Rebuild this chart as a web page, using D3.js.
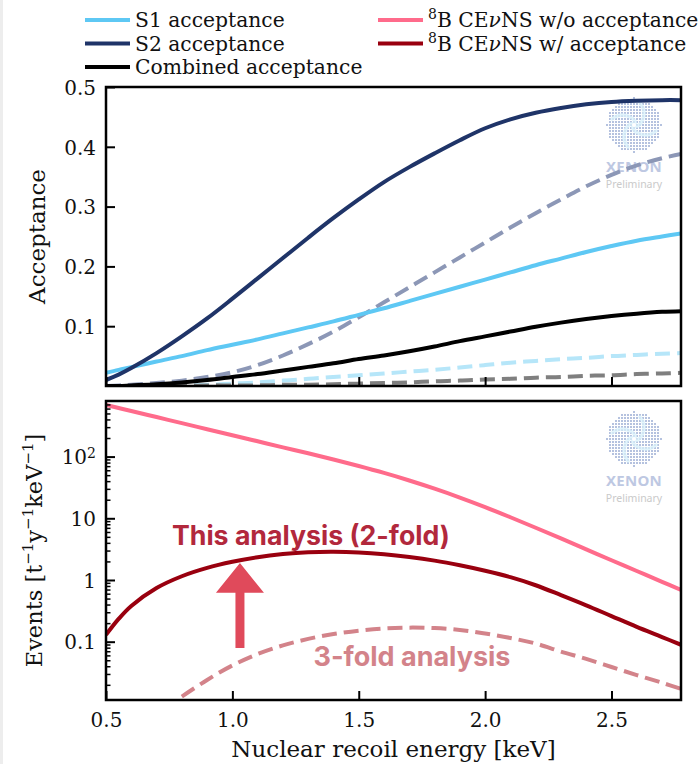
<!DOCTYPE html>
<html>
<head>
<meta charset="utf-8">
<script src="https://cdn.jsdelivr.net/npm/d3@7"></script>
<style>
  html, body { margin: 0; padding: 0; background: #fff; }
  svg text { font-family: "DejaVu Serif", serif; fill: #111; }
</style>
</head>
<body>
<svg id="chart" width="700" height="764"></svg>
<script>
// Nuclear recoil energy grid [keV]
const energy = [0.5, 0.55, 0.6, 0.7, 0.8, 0.9, 1.0, 1.1, 1.2, 1.3, 1.4, 1.5, 1.6,
                1.7, 1.8, 1.9, 2.0, 2.1, 2.2, 2.3, 2.4, 2.5, 2.6, 2.7, 2.775];

// Acceptances, 2-fold (solid)
const s1Acc = [0.022, 0.027, 0.0315, 0.041, 0.050, 0.060, 0.069, 0.078, 0.088, 0.098, 0.108, 0.119, 0.130,
               0.142, 0.154, 0.166, 0.178, 0.190, 0.202, 0.213, 0.224, 0.234, 0.243, 0.250, 0.255];
const s2Acc = [0.010, 0.019, 0.030, 0.055, 0.083, 0.113, 0.146, 0.180, 0.214, 0.248, 0.281, 0.312, 0.341,
               0.366, 0.389, 0.411, 0.431, 0.446, 0.457, 0.465, 0.471, 0.475, 0.477, 0.478, 0.478];
const combAcc = [0.000, 0.000, 0.001, 0.003, 0.006, 0.010, 0.015, 0.020, 0.026, 0.032, 0.038, 0.045, 0.051,
                 0.058, 0.066, 0.075, 0.083, 0.091, 0.099, 0.106, 0.112, 0.117, 0.121, 0.124, 0.125];

// Acceptances, 3-fold (dashed)
const s1Acc3 = [0.000, 0.000, 0.000, 0.001, 0.001, 0.002, 0.004, 0.006, 0.009, 0.012, 0.015, 0.018, 0.021,
                0.024, 0.027, 0.031, 0.035, 0.039, 0.042, 0.045, 0.047, 0.050, 0.052, 0.054, 0.055];
const s2Acc3 = [0.000, 0.001, 0.002, 0.005, 0.009, 0.015, 0.023, 0.035, 0.051, 0.070, 0.091, 0.115, 0.140,
                0.165, 0.190, 0.215, 0.240, 0.265, 0.289, 0.312, 0.334, 0.353, 0.369, 0.381, 0.388];
const combAcc3 = [0.000, 0.000, 0.000, 0.000, 0.000, 0.001, 0.001, 0.001, 0.002, 0.002, 0.003, 0.004, 0.005,
                  0.006, 0.008, 0.009, 0.011, 0.012, 0.014, 0.015, 0.017, 0.018, 0.020, 0.021, 0.022];

// 8B CEvNS spectra [t^-1 y^-1 keV^-1]
const rateNoAcc = [686, 612, 547, 437, 348, 278, 222, 177, 141, 113, 89.5, 70.3, 54.3,
                   41.0, 30.2, 21.7, 15.2, 10.4, 7.03, 4.71, 3.14, 2.09, 1.40, 0.933, 0.690];
const rate2fold = [0.129, 0.234, 0.380, 0.741, 1.15, 1.57, 1.97, 2.34, 2.63, 2.82, 2.87, 2.80, 2.62,
                   2.36, 2.06, 1.73, 1.41, 1.11, 0.822, 0.569, 0.389, 0.260, 0.174, 0.119, 0.0891];
const rate3fold = [null, null, null, null, 0.0129, 0.0240, 0.0412, 0.0631, 0.0871, 0.111, 0.133, 0.151, 0.164,
                   0.169, 0.166, 0.155, 0.136, 0.115, 0.0933, 0.0692, 0.0525, 0.0389, 0.0288, 0.0216, 0.0172];

// Axis ticks
const xTicks = [0.5, 1.0, 1.5, 2.0, 2.5];
const accTicks = [0.1, 0.2, 0.3, 0.4, 0.5];
const rateTicks = [0.1, 1, 10, 100];
const rateTickLabels = ["0.1", "1", "10", "10|2"];

const svg = d3.select("#chart");

// faint page edge on the left
svg.append("rect").attr("x", 0).attr("y", 0).attr("width", 3).attr("height", 764).attr("fill", "#ededed");

const plotL = 106, plotR = 681;
const top1 = 87, bot1 = 386;
const top2 = 401, bot2 = 700;

const x = d3.scaleLinear().domain([0.5, 2.775]).range([plotL, plotR]);
const yAcc = d3.scaleLinear().domain([0, 0.5]).range([bot1, top1]);
const yRate = d3.scaleLog().domain([0.01135, 796]).range([bot2, top2]);

svg.append("defs").call(d => {
  d.append("clipPath").attr("id", "clipTop").append("rect")
    .attr("x", plotL).attr("y", top1).attr("width", plotR - plotL).attr("height", bot1 - top1);
  d.append("clipPath").attr("id", "clipBot").append("rect")
    .attr("x", plotL).attr("y", top2).attr("width", plotR - plotL).attr("height", bot2 - top2);
});

// XENON collaboration mark
function drawLogo(g, cx, cy) {
  const lg = g.append("g").attr("opacity", 0.8);
  const r = 27;
  const dots = [];
  for (let i = -9; i <= 9; i++) {
    for (let j = -9; j <= 9; j++) {
      const px = i * 3, py = j * 3;
      if (px * px + py * py <= r * r) dots.push([px, py]);
    }
  }
  lg.selectAll("rect.dot").data(dots).join("rect").attr("class", "dot")
    .attr("x", d => cx + d[0] - 1).attr("y", d => cy + d[1] - 1)
    .attr("width", 2).attr("height", 2).attr("fill", "#a3b3d8");
  // faint light-cyan swirl over the disk
  const sw = lg.append("g").attr("fill", "none").attr("stroke", "#d2f0fb")
    .attr("stroke-width", 3.5).attr("stroke-linecap", "round").attr("opacity", 0.75);
  sw.append("path").attr("d", `M${cx - 22},${cy - 6} C${cx - 10},${cy - 16} ${cx + 6},${cy - 4} ${cx},${cy}`);
  sw.append("path").attr("d", `M${cx + 22},${cy + 6} C${cx + 10},${cy + 16} ${cx - 6},${cy + 4} ${cx},${cy}`);
  sw.append("path").attr("d", `M${cx - 6},${cy + 22} C${cx - 16},${cy + 10} ${cx - 4},${cy - 6} ${cx},${cy}`);
  sw.append("path").attr("d", `M${cx + 6},${cy - 22} C${cx + 16},${cy - 10} ${cx + 4},${cy + 6} ${cx},${cy}`);
  lg.append("circle").attr("cx", cx).attr("cy", cy).attr("r", 2).attr("fill", "#ffffff");
  lg.append("text").attr("x", cx).attr("y", cy + 47).attr("text-anchor", "middle")
    .style("font-family", "'Noto Sans', sans-serif").style("font-weight", 700)
    .style("font-size", "15px").style("fill", "#aebbdc").style("letter-spacing", "0.3px").text("XENON");
  lg.append("text").attr("x", cx).attr("y", cy + 63).attr("text-anchor", "middle")
    .style("font-family", "'Noto Sans', sans-serif")
    .style("font-size", "10.5px").style("fill", "#bdbdbd").text("Preliminary");
}

const lineGen = (ys, yScale) => d3.line()
  .defined((d, i) => ys[i] !== null)
  .x((d, i) => x(energy[i]))
  .y((d, i) => yScale(ys[i]))
  .curve(d3.curveCatmullRom.alpha(0.5))(energy);

// ---------- top panel: acceptances ----------
const gTop = svg.append("g");
drawLogo(gTop, 634, 125);

const accSeries = [
  { ys: s1Acc3, color: "#b6e6f9", dash: "15,7" },
  { ys: combAcc3, color: "#7f7f7f", dash: "15,7" },
  { ys: s2Acc3, color: "#8c97b6", dash: "15,7" },
  { ys: s1Acc, color: "#5ec8f4", dash: null },
  { ys: s2Acc, color: "#1f3468", dash: null },
  { ys: combAcc, color: "#000000", dash: null }
];
const topLines = gTop.append("g").attr("clip-path", "url(#clipTop)");
accSeries.forEach(s => {
  topLines.append("path").attr("d", lineGen(s.ys, yAcc))
    .attr("fill", "none").attr("stroke", s.color).attr("stroke-width", 4)
    .attr("stroke-dasharray", s.dash);
});

// ---------- bottom panel: event rates ----------
const gBot = svg.append("g");
drawLogo(gBot, 634, 439);

const botLines = gBot.append("g").attr("clip-path", "url(#clipBot)");
[
  { ys: rateNoAcc, color: "#ff6b8b", dash: null },
  { ys: rate2fold, color: "#99000f", dash: null },
  { ys: rate3fold, color: "#d3838a", dash: "15,7" }
].forEach(s => {
  botLines.append("path").attr("d", lineGen(s.ys, yRate))
    .attr("fill", "none").attr("stroke", s.color).attr("stroke-width", 4)
    .attr("stroke-dasharray", s.dash);
});

// annotation: arrow from the 3-fold result up to this analysis
const ax = x(1.03);
const aBase = yRate(0.079), aTip = yRate(1.88), headY = yRate(0.62);
gBot.append("path")
  .attr("d", `M${ax - 4.5},${aBase} L${ax - 4.5},${headY} L${ax - 24},${headY} L${ax},${aTip}
              L${ax + 24},${headY} L${ax + 4.5},${headY} L${ax + 4.5},${aBase} Z`)
  .attr("fill", "#e04a5b");

function fitText(sel, width) {
  const w = sel.node().getComputedTextLength();
  const fs = parseFloat(sel.style("font-size"));
  sel.style("font-size", (fs * width / w).toFixed(2) + "px");
}
const t2 = gBot.append("text").attr("x", x(0.761)).attr("y", 545)
  .style("font-family", "Inter, 'Open Sans', sans-serif").style("font-weight", 700)
  .style("font-size", "25px").style("fill", "#b2283c").text("This analysis (2-fold)");
fitText(t2, 278);
const t3 = gBot.append("text").attr("x", x(1.321)).attr("y", 666)
  .style("font-family", "Inter, 'Open Sans', sans-serif").style("font-weight", 700)
  .style("font-size", "23px").style("fill", "#d3838a").text("3-fold analysis");
fitText(t3, 197);

// ---------- axes ----------
function styleAxis(g) {
  g.select(".domain").remove();
  g.selectAll(".tick line").attr("stroke", "#000").attr("stroke-width", 2);
  g.selectAll(".tick text").style("font-family", "'DejaVu Serif', serif").style("font-size", "20px").attr("fill", "#111");
}

// top panel
svg.append("g").attr("transform", `translate(${plotL},0)`)
  .call(d3.axisLeft(yAcc).tickValues(accTicks).tickSize(-9).tickPadding(10).tickFormat(d3.format(".1f")))
  .call(styleAxis)
  .selectAll(".tick text").attr("dy", "0.36em");
svg.append("g").attr("transform", `translate(0,${bot1})`)
  .call(d3.axisBottom(x).tickValues(xTicks).tickSize(-9).tickFormat(""))
  .call(styleAxis);

// bottom panel
svg.append("g").attr("transform", `translate(0,${bot2})`)
  .call(d3.axisBottom(x).tickValues(xTicks).tickSize(-9).tickPadding(10).tickFormat(d3.format(".1f")))
  .call(styleAxis)
  .selectAll(".tick text").attr("dy", "0.85em");

const minor = [];
[0.01, 0.1, 1, 10, 100].forEach(dec => {
  for (let k = 2; k <= 9; k++) {
    const v = dec * k;
    if (v > yRate.domain()[0] && v < yRate.domain()[1]) minor.push(v);
  }
});
svg.append("g").attr("transform", `translate(${plotL},0)`)
  .call(d3.axisLeft(yRate).tickValues(minor).tickSize(-4.5).tickFormat(""))
  .call(styleAxis)
  .selectAll(".tick line").attr("stroke-width", 1.5);

const yRateAxis = svg.append("g").attr("transform", `translate(${plotL},0)`)
  .call(d3.axisLeft(yRate).tickValues(rateTicks).tickSize(-9).tickPadding(10).tickFormat(""))
  .call(styleAxis);
yRateAxis.selectAll(".tick").each(function (d, i) {
  const parts = rateTickLabels[i].split("|");
  const t = d3.select(this).append("text").attr("x", -10).attr("dy", "0.36em")
    .attr("text-anchor", "end").style("font-size", "20px");
  t.append("tspan").text(parts[0]);
  if (parts[1]) t.append("tspan").attr("dy", "-0.45em").style("font-size", "14px").text(parts[1]);
});

// frames
[[top1, bot1], [top2, bot2]].forEach(([t, b]) => {
  svg.append("rect").attr("x", plotL).attr("y", t).attr("width", plotR - plotL).attr("height", b - t)
    .attr("fill", "none").attr("stroke", "#000").attr("stroke-width", 2.5);
});

// axis titles
svg.append("text").attr("transform", `translate(37,${(top1 + bot1) / 2}) rotate(-90)`)
  .attr("text-anchor", "middle").attr("dy", "0.35em").style("font-size", "23px").text("Acceptance");

const ev = svg.append("text").attr("transform", `translate(34,${(top2 + bot2) / 2}) rotate(-90)`)
  .attr("text-anchor", "middle").attr("dy", "0.35em").style("font-size", "22.5px");
ev.append("tspan").text("Events [t");
ev.append("tspan").attr("dy", -9).style("font-size", "15px").text("\u22121");
ev.append("tspan").attr("dy", 9).text("y");
ev.append("tspan").attr("dy", -9).style("font-size", "15px").text("\u22121");
ev.append("tspan").attr("dy", 9).text("keV");
ev.append("tspan").attr("dy", -9).style("font-size", "15px").text("\u22121");
ev.append("tspan").attr("dy", 9).text("]");

svg.append("text").attr("x", (plotL + plotR) / 2).attr("y", 757).attr("text-anchor", "middle")
  .style("font-size", "23px").text("Nuclear recoil energy [keV]");

// ---------- legend ----------
const legendItems = [
  { col: 0, row: 0, color: "#5ec8f4", label: ["S1 acceptance"] },
  { col: 0, row: 1, color: "#1f3468", label: ["S2 acceptance"] },
  { col: 0, row: 2, color: "#000000", label: ["Combined acceptance"] },
  { col: 1, row: 0, color: "#ff6b8b", label: ["8", "B CE", "\u03bd", "NS w/o acceptance"] },
  { col: 1, row: 1, color: "#99000f", label: ["8", "B CE", "\u03bd", "NS w/ acceptance"] }
];
const colX = [85, 378];
const rowY = [20, 43.5, 67];
const lg = svg.append("g");
legendItems.forEach(it => {
  const x0 = colX[it.col], y0 = rowY[it.row];
  lg.append("line").attr("x1", x0).attr("x2", x0 + 45).attr("y1", y0).attr("y2", y0)
    .attr("stroke", it.color).attr("stroke-width", 4);
  const t = lg.append("text").attr("x", x0 + 50).attr("y", y0 + 7).style("font-size", "20.3px");
  if (it.label.length === 1) {
    t.text(it.label[0]);
  } else {
    t.append("tspan").attr("dy", -8).style("font-size", "14px").text(it.label[0]);
    t.append("tspan").attr("dy", 8).text(it.label[1]);
    t.append("tspan").style("font-style", "italic").text(it.label[2]);
    t.append("tspan").text(it.label[3]);
  }
});
</script>
</body>
</html>
